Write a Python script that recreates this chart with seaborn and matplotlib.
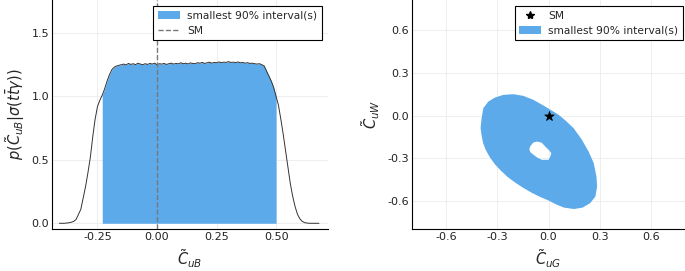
import numpy as np
import pandas as pd
import matplotlib
matplotlib.use("Agg")
import matplotlib.pyplot as plt
import seaborn as sns
from matplotlib.patches import Patch, PathPatch
from matplotlib.path import Path
from matplotlib.lines import Line2D

# --- left panel: posterior of C_uB (bin centres and density) ---
cub_x = np.round(np.arange(-0.41, 0.685, 0.01), 2)
cub_density = [
    0.0, 0.0, 0.0, 0.002, 0.004, 0.008, 0.015,        # -0.41 .. -0.35
    0.03, 0.07, 0.11, 0.20, 0.29, 0.40, 0.52, 0.68,   # -0.34 .. -0.27
    0.82, 0.92, 0.97, 1.01, 1.06, 1.12, 1.17, 1.21,   # -0.26 .. -0.19
    1.23, 1.24, 1.245, 1.25, 1.255, 1.248, 1.26, 1.252,  # -0.18 .. -0.11
    1.258, 1.25, 1.262, 1.255, 1.25, 1.258, 1.252, 1.26,  # -0.10 .. -0.03
    1.255, 1.262, 1.25, 1.258, 1.255, 1.26, 1.252, 1.258,  # -0.02 .. 0.05
    1.262, 1.255, 1.26, 1.257, 1.265, 1.258, 1.262, 1.256,  # 0.06 .. 0.13
    1.264, 1.26, 1.258, 1.266, 1.262, 1.268, 1.26, 1.265,  # 0.14 .. 0.21
    1.27, 1.262, 1.268, 1.265, 1.272, 1.266, 1.27, 1.268,  # 0.22 .. 0.29
    1.274, 1.268, 1.27, 1.266, 1.272, 1.265, 1.268, 1.262,  # 0.30 .. 0.37
    1.266, 1.26, 1.262, 1.258, 1.255, 1.258, 1.25, 1.24,  # 0.38 .. 0.45
    1.20, 1.16, 1.12, 1.07, 1.00, 0.93, 0.82, 0.70,     # 0.46 .. 0.53
    0.57, 0.44, 0.31, 0.21, 0.13, 0.07, 0.035, 0.015,   # 0.54 .. 0.61
    0.005, 0.002, 0.0, 0.0, 0.0, 0.0, 0.0,              # 0.62 .. 0.68
]
interval_lo, interval_hi = -0.23, 0.50
sm_value = 0.0

# --- right panel: 90% region in (C_uG, C_uW), outer boundary and hole ---
outer_uG = [-0.392, -0.398, -0.392, -0.384, -0.368, -0.345, -0.315, -0.28, -0.24,
            -0.195, -0.15, -0.10, -0.05, 0.0, 0.04, 0.09, 0.15, 0.20, 0.245,
            0.275, 0.285, 0.281, 0.265, 0.235, 0.196, 0.147, 0.10, 0.06, 0.029,
            -0.029, -0.088, -0.147, -0.206, -0.265, -0.314, -0.353, -0.382]
outer_uW = [-0.018, -0.088, -0.14, -0.19, -0.24, -0.29, -0.34, -0.385, -0.43,
            -0.47, -0.505, -0.54, -0.57, -0.595, -0.62, -0.645, -0.655, -0.645,
            -0.613, -0.567, -0.497, -0.427, -0.333, -0.252, -0.17, -0.088, -0.035,
            0.005, 0.028, 0.07, 0.11, 0.138, 0.150, 0.145, 0.126, 0.098, 0.052]
hole_uG = [-0.112, -0.108, -0.09, -0.068, -0.04, -0.019, 0.005, 0.016, 0.01,
           0.0, -0.039, -0.065, -0.088, -0.105]
hole_uW = [-0.24, -0.217, -0.19, -0.182, -0.19, -0.217, -0.245, -0.263, -0.29,
           -0.31, -0.31, -0.295, -0.275, -0.258]
sm_point = (0.0, 0.0)

blue = "#5DAAEB"

sns.set_style("whitegrid")
plt.rcParams["font.family"] = ["DejaVu Sans"]
plt.rcParams["mathtext.fontset"] = "dejavusans"
plt.rcParams["axes.unicode_minus"] = False

fig = plt.figure(figsize=(6.85, 2.71), dpi=100)
ax1 = fig.add_axes([52 / 685, 42 / 271, 276 / 685, 229 / 271])
ax2 = fig.add_axes([412 / 685, 42 / 271, 273 / 685, 229 / 271])

for ax in (ax1, ax2):
    ax.set_facecolor("white")
    ax.grid(True, color="#ebebeb", linewidth=0.6)
    for s in ("top", "right"):
        ax.spines[s].set_visible(False)
    for s in ("left", "bottom"):
        ax.spines[s].set_color("black")
        ax.spines[s].set_linewidth(0.8)
    ax.tick_params(labelsize=8, length=2, direction="in", width=0.6, pad=2,
                   labelcolor="#222222")

legend_kw = dict(loc="upper right", fontsize=7.7, fancybox=False, framealpha=1,
                 edgecolor="black", borderpad=0.45, borderaxespad=0,
                 handlelength=2.0, handletextpad=0.7, labelspacing=0.45)

# left panel
df = pd.DataFrame({"x": cub_x, "p": cub_density})
mask = (df["x"] >= interval_lo - 1e-9) & (df["x"] <= interval_hi + 1e-9)
ax1.fill_between(df["x"], 0, df["p"], where=mask, color=blue, linewidth=0)
sns.lineplot(data=df, x="x", y="p", ax=ax1, color="#333333", linewidth=0.7)
ax1.axvline(sm_value, color="#777777", linestyle="--", linewidth=1.0)
ax1.set_xlim(-0.441, 0.718)
ax1.set_ylim(-0.045, 1.76)
ax1.set_xticks([-0.25, 0.0, 0.25, 0.5])
ax1.set_xticklabels(["-0.25", "0.00", "0.25", "0.50"])
ax1.set_yticks([0.0, 0.5, 1.0, 1.5])
ax1.set_xlabel(r"$\tilde{C}_{uB}$", fontsize=10.5, labelpad=4)
ax1.set_ylabel(r"$p(\tilde{C}_{uB}|\sigma(t\bar{t}\gamma))$", fontsize=10.5, labelpad=3)
h1 = [Patch(facecolor=blue, edgecolor="none"),
      Line2D([], [], color="#777777", linestyle="--", linewidth=1.0)]
leg1 = ax1.legend(h1, ["smallest 90% interval(s)", "SM"],
                  bbox_to_anchor=(0.978, 0.974), **legend_kw)
leg1.get_frame().set_linewidth(0.8)

# right panel (outer ring counter-clockwise, hole clockwise)
verts = list(zip(outer_uG, outer_uW)) + [(outer_uG[0], outer_uW[0])]
hole = list(zip(hole_uG, hole_uW))
hole = hole + [hole[0]]
codes = ([Path.MOVETO] + [Path.LINETO] * (len(verts) - 2) + [Path.CLOSEPOLY]
         + [Path.MOVETO] + [Path.LINETO] * (len(hole) - 2) + [Path.CLOSEPOLY])
ax2.add_patch(PathPatch(Path(verts + hole, codes), facecolor=blue, edgecolor="none"))
sm_df = pd.DataFrame({"uG": [sm_point[0]], "uW": [sm_point[1]]})
sns.scatterplot(data=sm_df, x="uG", y="uW", ax=ax2, marker="*", s=50,
                color="black", edgecolor="black", zorder=5)
ax2.set_xlim(-0.8, 0.8)
ax2.set_ylim(-0.795, 0.81)
ax2.set_xticks([-0.6, -0.3, 0.0, 0.3, 0.6])
ax2.set_yticks([-0.6, -0.3, 0.0, 0.3, 0.6])
ax2.set_xlabel(r"$\tilde{C}_{uG}$", fontsize=10.5, labelpad=4)
ax2.set_ylabel(r"$\tilde{C}_{uW}$", fontsize=10.5, labelpad=4)
h2 = [Line2D([], [], marker="*", color="black", linestyle="none", markersize=6),
      Patch(facecolor=blue, edgecolor="none")]
leg2 = ax2.legend(h2, ["SM", "smallest 90% interval(s)"],
                  bbox_to_anchor=(0.993, 0.974), **legend_kw)
leg2.get_frame().set_linewidth(0.8)

fig.savefig("out.png", dpi=100)
